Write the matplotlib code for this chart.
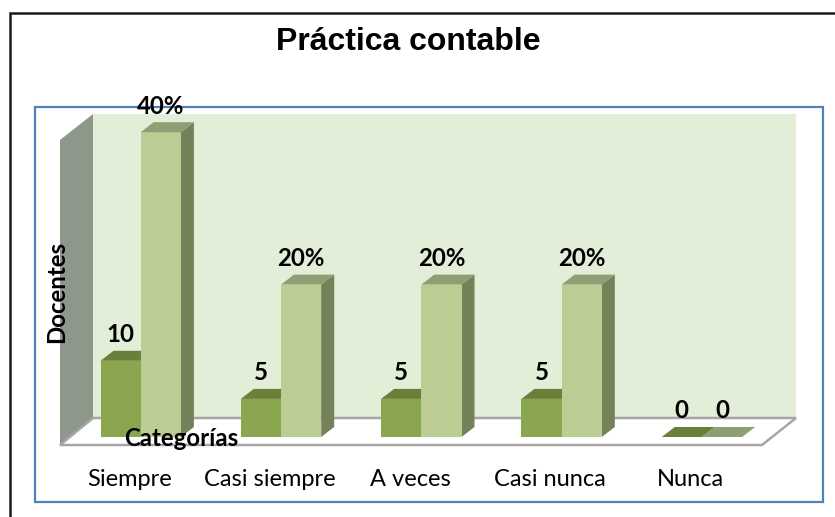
import matplotlib
matplotlib.use("Agg")
import matplotlib.pyplot as plt
from matplotlib.patches import Polygon, Rectangle

categorias = ["Siempre", "Casi siempre", "A veces", "Casi nunca", "Nunca"]
docentes = [10, 5, 5, 5, 0]
porcentaje = [40, 20, 20, 20, 0]
etiquetas_pct = ["40%", "20%", "20%", "20%", "0"]

# pixel layout of the picture
W, H = 835, 517
base_y = 437
escala = 7.62
grupo_x0 = 100.5
grupo_paso = 140.3
ancho = 40.2
dx, dy = 13, -10
cat_x = [130, 270, 410, 550, 690]

fig = plt.figure(figsize=(W / 100, H / 100), dpi=100)
ax = fig.add_axes([0, 0, 1, 1])
ax.set_xlim(0, W)
ax.set_ylim(H, 0)
ax.axis("off")


def poly(pts, color, z=2, **kw):
    ax.add_patch(Polygon(pts, closed=True, facecolor=color, edgecolor=kw.get("ec", "none"),
                         linewidth=kw.get("lw", 0), zorder=z))


def barra(x, valor, frente, arriba, lado, z):
    top = base_y - valor * escala
    if valor > 0:
        poly([(x + ancho, base_y), (x + ancho + dx, base_y + dy), (x + ancho + dx, top + dy), (x + ancho, top)], lado, z)
        poly([(x, base_y), (x + ancho, base_y), (x + ancho, top), (x, top)], frente, z + 0.1)
    poly([(x, top), (x + ancho, top), (x + ancho + dx, top + dy), (x + dx, top + dy)], arriba, z + 0.1)
    return top


# marco exterior, solo arriba e izquierda
ax.plot([9.5, 9.5, W], [H, 12.5, 12.5], color="#1a1a1a", lw=1.8, zorder=1, solid_joinstyle="miter")
ax.add_patch(Rectangle((35, 107), 788, 395, facecolor="white", edgecolor="#4f81bd", lw=1.6, zorder=1))

# paredes y piso
ax.add_patch(Rectangle((93, 114), 703, 304, facecolor="#e3eed8", edgecolor="none", zorder=1.2))
poly([(60, 140), (93, 114), (93, 418), (60, 445)], "#8e988a", 1.3)
poly([(60, 445), (93, 418), (796, 418), (762, 445)], "white", 1.4, ec="#a6a6a6", lw=1.8)

for i in range(len(categorias)):
    x = grupo_x0 + i * grupo_paso
    t1 = barra(x, docentes[i], "#8aa64e", "#6a7f3a", "#6a7f3a", 3)
    t2 = barra(x + ancho, porcentaje[i], "#bccd94", "#8f9f74", "#748159", 3.5)
    ax.text(x + ancho / 2, t1 + dy - 16, str(docentes[i]), ha="center", va="center",
            family="Lato", fontweight="bold", fontsize=17.3, color="black", zorder=6)
    ax.text(x + ancho * 1.5, t2 + dy - 16, etiquetas_pct[i], ha="center", va="center",
            family="Lato", fontweight="bold", fontsize=17.3, color="black", zorder=6)
    ax.text(cat_x[i], 479, categorias[i], ha="center", va="center",
            family="Lato", fontsize=17, color="black", zorder=6)

ax.text(408.5, 41.5, "Práctica contable", ha="center", va="center", family="Liberation Sans",
        fontweight="bold", fontsize=23, color="black", zorder=6)
ax.text(181, 439, "Categorías", ha="center", va="center", family="Lato",
        fontweight="bold", fontsize=17.3, color="black", zorder=6)
ax.text(57, 292, "Docentes", ha="center", va="center", rotation=90, family="Lato",
        fontweight="bold", fontsize=17.3, color="black", zorder=6)

fig.savefig("out.png", dpi=100)
